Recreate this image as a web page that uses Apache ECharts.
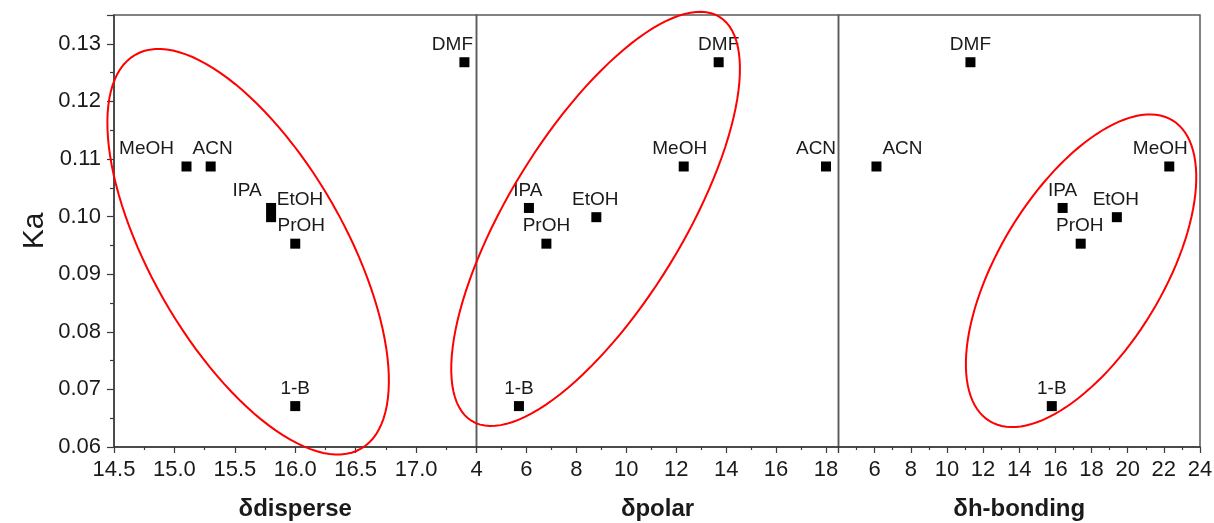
<!DOCTYPE html>
<html>
<head>
<meta charset="utf-8">
<script src="https://cdn.jsdelivr.net/npm/echarts@6/dist/echarts.min.js"></script>
<style>
    body { margin: 0; background: #fff; }
    #chart { width: 1214px; height: 523px; }
</style>
</head>
<body>
<div id="chart"></div>
<script>
// 溶剂及其 Hansen 参数
var solvents = ['MeOH', 'ACN', 'IPA', 'EtOH', 'PrOH', '1-B', 'DMF'];
var ka = [0.1087, 0.1087, 0.1015, 0.0999, 0.0953, 0.0671, 0.1268];
var dDisperse = [15.1, 15.3, 15.8, 15.8, 16.0, 16.0, 17.4];
var dPolar = [12.3, 18.0, 6.1, 8.8, 6.8, 5.7, 13.7];
var dHbond = [22.3, 6.1, 16.4, 19.4, 17.4, 15.8, 11.3];

var panelNames = ['δdisperse', 'δpolar', 'δh-bonding'];

// 标签水平偏移（像素）
var labelShift = [
    [-40, 2, -24, 29, 6, 0, -12],
    [-4, -10, -1, -1, 0, 0, 0],
    [-9, 26, 0, -1, -1, 0, 0]
];

// 红色椭圆：中心(数据坐标)，半轴(像素)，旋转角(度)
var ellipseCenters = [[15.61, 0.0939], [8.77, 0.0996], [17.42, 0.0906]];
var ellipseShape = [
    {rx: 227, ry: 97, angle: 60.2},
    {rx: 237, ry: 87, angle: -58.5},
    {rx: 176, ry: 82, angle: -58.7}
];

var font = 'Liberation Sans, Arial, sans-serif';
var axisColor = '#3a3a3a';
var textColor = '#1a1a1a';

var chart = echarts.init(document.getElementById('chart'));

var grids = [
    {left: 114, width: 362.5, top: 15, bottom: 76},
    {left: 476.5, width: 362, top: 15, bottom: 76},
    {left: 838.5, width: 361.5, top: 15, bottom: 76}
];
grids.forEach(function (g) {
    g.show = true;
    g.borderColor = '#5a5a5a';
    g.borderWidth = 1.5;
    g.backgroundColor = 'transparent';
    g.containLabel = false;
    g.outerBoundsMode = 'none';
});

function xAxisFor(i, min, max, interval, extra) {
    var ax = {
        gridIndex: i,
        type: 'value',
        min: min,
        max: max,
        interval: interval,
        name: panelNames[i],
        nameLocation: 'middle',
        nameGap: 50,
        nameTextStyle: {fontFamily: font, fontSize: 24, fontWeight: 'bold', color: textColor},
        axisLine: {show: true, onZero: false, lineStyle: {color: axisColor, width: 1.5}},
        axisTick: {show: true, inside: false, length: 6, lineStyle: {color: axisColor, width: 1.2}},
        minorTick: {show: true, splitNumber: 2, length: 3, lineStyle: {color: axisColor, width: 1.2}},
        splitLine: {show: false},
        axisLabel: {fontFamily: font, fontSize: 22, color: textColor, margin: 12}
    };
    for (var k in extra) ax.axisLabel[k] = extra[k];
    return ax;
}

var xAxes = [
    xAxisFor(0, 14.5, 17.5, 0.5, {showMaxLabel: false, formatter: function (v) { return v.toFixed(1); }}),
    xAxisFor(1, 4, 18.5, 2, {showMaxLabel: false}),
    xAxisFor(2, 4, 24, 2, {showMinLabel: false})
];

var yAxes = [0, 1, 2].map(function (i) {
    return {
        gridIndex: i,
        type: 'value',
        min: 0.06,
        max: 0.135,
        interval: 0.01,
        show: i === 0,
        name: i === 0 ? 'Ka' : '',
        nameLocation: 'middle',
        nameGap: 64,
        nameTextStyle: {fontFamily: font, fontSize: 30, color: textColor},
        axisLine: {show: true, lineStyle: {color: axisColor, width: 1.5}},
        axisTick: {show: true, inside: false, length: 7, lineStyle: {color: axisColor, width: 1.2}},
        minorTick: {show: true, splitNumber: 2, length: 4, lineStyle: {color: axisColor, width: 1.2}},
        splitLine: {show: false},
        axisLabel: {
            fontFamily: font, fontSize: 22, color: textColor, margin: 13,
            showMaxLabel: false,
            formatter: function (v) { return v.toFixed(2); }
        }
    };
});

var xValues = [dDisperse, dPolar, dHbond];
var series = [];

xValues.forEach(function (xs, p) {
    series.push({
        type: 'scatter',
        xAxisIndex: p,
        yAxisIndex: p,
        symbol: 'rect',
        symbolSize: 10,
        itemStyle: {color: '#000', opacity: 1},
        z: 3,
        label: {
            show: true,
            position: 'top',
            distance: 3,
            formatter: '{b}',
            fontFamily: font,
            fontSize: 19,
            color: textColor,
            opacity: 1
        },
        data: solvents.map(function (s, i) {
            return {name: s, value: [xs[i], ka[i]], label: {offset: [labelShift[p][i], 0]}};
        })
    });

    // 椭圆
    series.push({
        type: 'custom',
        xAxisIndex: p,
        yAxisIndex: p,
        silent: true,
        clip: false,
        z: 4,
        data: [ellipseCenters[p]],
        renderItem: function (params, api) {
            var c = api.coord([api.value(0), api.value(1)]);
            var e = ellipseShape[p];
            var th = e.angle * Math.PI / 180;
            var pts = [];
            for (var t = 0; t < 120; t++) {
                var a = t / 120 * 2 * Math.PI;
                var ex = e.rx * Math.cos(a), ey = e.ry * Math.sin(a);
                pts.push([c[0] + ex * Math.cos(th) - ey * Math.sin(th),
                          c[1] + ex * Math.sin(th) + ey * Math.cos(th)]);
            }
            return {
                type: 'polygon',
                shape: {points: pts},
                style: {fill: 'transparent', stroke: '#ff0000', lineWidth: 2}
            };
        }
    });
});

option = {
    backgroundColor: '#fff',
    animation: false,
    grid: grids,
    xAxis: xAxes,
    yAxis: yAxes,
    series: series
};

chart.setOption(option);
</script>
</body>
</html>
